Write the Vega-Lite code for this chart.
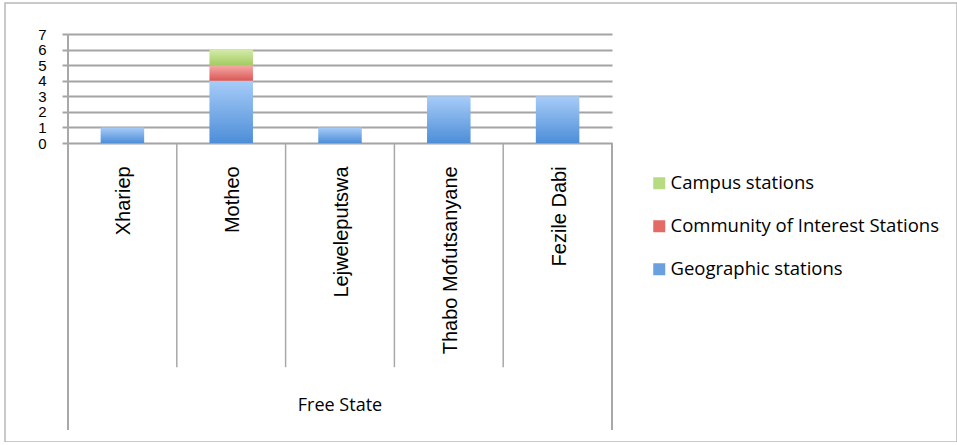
{
  "$schema": "https://vega.github.io/schema/vega-lite/v6.json",
  "width": 952,
  "height": 439,
  "autosize": {"type": "none"},
  "padding": {"left": 5, "top": 3, "right": 0, "bottom": 0},
  "background": "white",
  "view": {"stroke": "#b8b8b8", "strokeWidth": 1.5, "fill": "white"},
  "data": {
    "values": [
      {"province": "Free State", "district": "Xhariep", "series": "Geographic stations", "stations": 1},
      {"province": "Free State", "district": "Motheo", "series": "Geographic stations", "stations": 4},
      {"province": "Free State", "district": "Motheo", "series": "Community of Interest Stations", "stations": 1},
      {"province": "Free State", "district": "Motheo", "series": "Campus stations", "stations": 1},
      {"province": "Free State", "district": "Lejweleputswa", "series": "Geographic stations", "stations": 1},
      {"province": "Free State", "district": "Thabo Mofutsanyane", "series": "Geographic stations", "stations": 3},
      {"province": "Free State", "district": "Fezile Dabi", "series": "Geographic stations", "stations": 3}
    ]
  },
  "layer": [
    {
      "mark": {"type": "bar", "width": {"band": 0.4}},
      "encoding": {
        "x": {
          "field": "district",
          "type": "nominal",
          "scale": {
            "type": "band",
            "domain": ["Xhariep", "Motheo", "Lejweleputswa", "Thabo Mofutsanyane", "Fezile Dabi"],
            "range": [63, 607],
            "paddingInner": 0,
            "paddingOuter": 0
          },
          "axis": null
        },
        "y": {
          "field": "stations",
          "type": "quantitative",
          "aggregate": "sum",
          "stack": "zero",
          "scale": {"domain": [0, 7], "range": [140, 31], "nice": false, "zero": false},
          "axis": {
            "orient": "left",
            "offset": -63,
            "title": null,
            "values": [0, 1, 2, 3, 4, 5, 6, 7],
            "format": "d",
            "domain": false,
            "grid": true,
            "gridColor": "#a4a4a4",
            "gridWidth": 2,
            "ticks": true,
            "tickSize": 6,
            "tickColor": "#a4a4a4",
            "tickWidth": 2,
            "labelFont": "Liberation Sans",
            "labelFontSize": 15,
            "labelColor": "#000000",
            "labelPadding": 16,
            "labelOverlap": false,
            "labelFlush": false,
            "labelBaseline": "middle"
          }
        },
        "color": {
          "condition": [
            {"test": "datum.series === 'Campus stations'", "value": {"gradient": "linear", "x1": 0, "y1": 0, "x2": 0, "y2": 1, "stops": [{"offset": 0, "color": "#d4eba8"}, {"offset": 1, "color": "#a3cc63"}]}},
            {"test": "datum.series === 'Community of Interest Stations'", "value": {"gradient": "linear", "x1": 0, "y1": 0, "x2": 0, "y2": 1, "stops": [{"offset": 0, "color": "#f6aca9"}, {"offset": 1, "color": "#db5754"}]}},
            {"test": "datum.series === 'Geographic stations'", "value": {"gradient": "linear", "x1": 0, "y1": 0, "x2": 0, "y2": 1, "stops": [{"offset": 0, "color": "#a7ccf8"}, {"offset": 1, "color": "#4d8ed8"}]}}
          ],
          "field": "series",
          "type": "nominal",
          "scale": {
            "domain": ["Campus stations", "Community of Interest Stations", "Geographic stations"],
            "range": ["#b6db80", "#e46a66", "#6a9fe0"]
          },
          "legend": {
            "orient": "none",
            "legendX": 645,
            "legendY": 171,
            "title": null,
            "symbolType": "square",
            "symbolSize": 144,
            "symbolStrokeWidth": 0,
            "labelFont": "Open Sans",
            "labelFontSize": 18.5,
            "labelColor": "#000000",
            "labelOffset": 2,
            "rowPadding": 24,
            "labelLimit": 400
          }
        }
      }
    },
    {
      "transform": [{"filter": "datum.series === 'Geographic stations' && datum.district !== 'Xhariep'"}],
      "mark": {"type": "rule", "color": "#a8a8a8", "strokeWidth": 1.5},
      "encoding": {
        "x": {"field": "district", "type": "nominal", "bandPosition": 0},
        "y": {"datum": 0},
        "y2": {"datum": -14.4}
      }
    },
    {
      "mark": {"type": "rule", "color": "#a8a8a8", "strokeWidth": 1.5},
      "encoding": {
        "x": {"datum": "Xhariep", "type": "nominal", "bandPosition": 0},
        "y": {"datum": 7},
        "y2": {"datum": -18.4}
      }
    },
    {
      "mark": {"type": "rule", "color": "#a8a8a8", "strokeWidth": 1.5},
      "encoding": {
        "x": {"datum": "Fezile Dabi", "type": "nominal", "bandPosition": 1},
        "y": {"datum": 0},
        "y2": {"datum": -18.4}
      }
    },
    {
      "transform": [{"filter": "datum.series === 'Geographic stations'"}],
      "mark": {"type": "text", "angle": 270, "align": "right", "baseline": "middle", "dy": 2, "font": "Liberation Sans", "fontSize": 20, "color": "#000000"},
      "encoding": {
        "x": {"field": "district", "type": "nominal"},
        "y": {"datum": -1.5},
        "text": {"field": "district"}
      }
    },
    {
      "transform": [{"aggregate": [{"op": "count", "as": "n"}], "groupby": ["province"]}],
      "mark": {"type": "text", "align": "center", "baseline": "middle", "font": "Open Sans", "fontSize": 18, "color": "#000000"},
      "encoding": {
        "x": {"datum": "Lejweleputswa", "type": "nominal"},
        "y": {"datum": -16.9},
        "text": {"field": "province"}
      }
    }
  ]
}
